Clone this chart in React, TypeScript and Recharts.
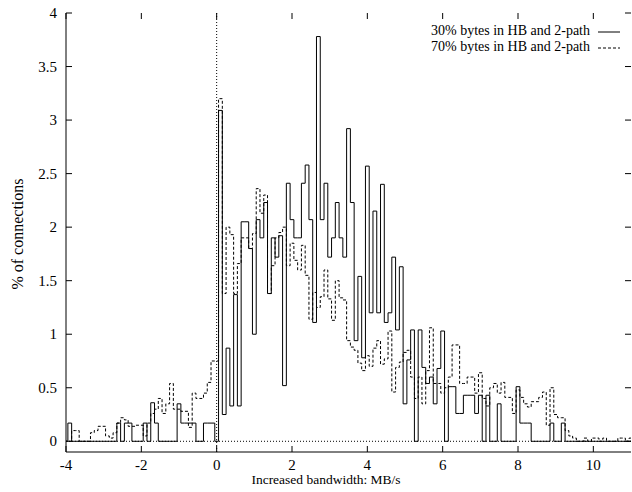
import { LineChart, Line, XAxis, YAxis, ReferenceLine } from 'recharts'

// histogram bins, 0.1 MB/s wide; value k belongs to [BIN_START + k*BIN_WIDTH, +BIN_WIDTH)
const BIN_START = -4.05
const BIN_WIDTH = 0.1

const HB30 = [
  0, 0.17, 0, 0, 0, 0, 0, 0, 0, 0,
  0, 0, 0, 0, 0.17, 0, 0.17, 0.17, 0, 0,
  0, 0.17, 0, 0.36, 0.17, 0, 0, 0, 0, 0,
  0.35, 0.17, 0.17, 0.17, 0.17, 0, 0, 0.17, 0.17, 0.17,
  0, 3.09, 0.25, 0.87, 0.33, 1.37, 0.33, 2.05, 2.05, 1.8,
  1.0, 2.07, 1.9, 2.23, 1.38, 1.9, 1.72, 1.92, 0.52, 2.41,
  2.07, 1.9, 1.9, 2.41, 2.58, 2.07, 1.11, 3.78, 2.07, 2.41,
  1.72, 1.9, 2.23, 1.9, 1.72, 2.92, 2.23, 0.94, 1.54, 0.78,
  2.57, 1.2, 2.15, 1.2, 2.4, 1.11, 1.2, 1.72, 1.04, 1.63,
  0.35, 0.76, 1.04, 0, 1.04, 0.69, 0.54, 0.6, 0.35, 0.68,
  1.03, 0, 0.51, 0.51, 0.26, 0.26, 0.43, 0.43, 0.43, 0.26,
  0.43, 0, 0.43, 0, 0, 0.35, 0, 0, 0, 0,
  0.51, 0.17, 0.17, 0.17, 0, 0, 0, 0, 0, 0.17,
  0, 0, 0.17, 0, 0, 0, 0, 0, 0, 0,
  0, 0, 0, 0, 0, 0, 0, 0, 0, 0, 0,
]

const HB70 = [
  0, 0, 0.1, 0.1, 0, 0, 0, 0.08, 0.1, 0.14,
  0.14, 0.05, 0.03, 0.08, 0.17, 0.22, 0.2, 0.14, 0.14, 0.15,
  0.15, 0.05, 0.17, 0.26, 0.3, 0.4, 0.26, 0.35, 0.54, 0.3,
  0.3, 0.28, 0.28, 0.13, 0.45, 0.4, 0.4, 0.45, 0.55, 0.75,
  0.75, 3.2, 1.38, 2.0, 1.93, 1.38, 1.66, 1.9, 1.9, 1.8,
  1.94, 2.36, 2.13, 2.3, 1.38, 1.64, 1.9, 1.95, 2.0, 1.64,
  1.85, 1.69, 1.6, 1.83, 1.55, 1.14, 1.39, 1.25, 1.35, 1.6,
  1.33, 1.13, 1.5, 1.34, 1.32, 0.94, 0.88, 0.85, 0.73, 0.66,
  0.8, 0.7, 0.87, 0.94, 0.72, 0.77, 1.03, 0.46, 0.69, 0.74,
  0.83, 0.85, 0.6, 0.4, 0.6, 0.35, 0.66, 1.06, 0.54, 0.54,
  0.45, 0.5, 0.6, 0.9, 0.9, 0.54, 0.54, 0.6, 0.6, 0.45,
  0.64, 0.4, 0.33, 0.5, 0.54, 0.45, 0.55, 0.41, 0.41, 0.26,
  0.48, 0.41, 0.35, 0.32, 0.37, 0.37, 0.41, 0.46, 0.15, 0.5,
  0.25, 0.22, 0.22, 0.1, 0.05, 0.03, 0, 0, 0.03, 0,
  0.03, 0.03, 0, 0.03, 0, 0, 0, 0.03, 0.03, 0, 0.03,
]

const X_TICKS = [-4, -2, 0, 2, 4, 6, 8, 10]
const Y_TICKS = [0, 0.5, 1, 1.5, 2, 2.5, 3, 3.5, 4]
const LEGEND = [
  { label: '30% bytes in HB and 2-path', dash: undefined },
  { label: '70% bytes in HB and 2-path', dash: '3 2' },
]

const W = 632
const H = 492
const LEFT = 66
const RIGHT = 631
const TOP = 13
const BOTTOM = 452
const TICK = 6
const FONT = '"Liberation Serif", "Times New Roman", serif'

const data = HB30.map((v, i) => ({
  x: +(BIN_START + i * BIN_WIDTH).toFixed(2),
  hb30: v,
  hb70: HB70[i],
}))
// closing point so the last step gets its width
data.push({
  x: +(BIN_START + HB30.length * BIN_WIDTH).toFixed(2),
  hb30: HB30[HB30.length - 1],
  hb70: HB70[HB70.length - 1],
})

function XTick({ x, payload }: any) {
  return (
    <g>
      <line x1={x} x2={x} y1={BOTTOM} y2={BOTTOM - TICK} stroke="#000" />
      <line x1={x} x2={x} y1={TOP} y2={TOP + TICK} stroke="#000" />
      <text x={x} y={BOTTOM + 18} textAnchor="middle" fontSize={15} fontFamily={FONT} fill="#000">
        {payload.value}
      </text>
    </g>
  )
}

function YTick({ y, payload }: any) {
  return (
    <g>
      <line x1={LEFT} x2={LEFT + TICK} y1={y} y2={y} stroke="#000" />
      <line x1={RIGHT} x2={RIGHT - TICK} y1={y} y2={y} stroke="#000" />
      <text x={LEFT - 9} y={y + 5} textAnchor="end" fontSize={15} fontFamily={FONT} fill="#000">
        {payload.value}
      </text>
    </g>
  )
}

function XTitle() {
  return (
    <text x={326} y={484} textAnchor="middle" fontSize={13.5} fontFamily={FONT} fill="#000">
      Increased bandwidth: MB/s
    </text>
  )
}

function YTitle() {
  return (
    <text
      x={23}
      y={234}
      transform="rotate(-90 23 234)"
      textAnchor="middle"
      fontSize={16}
      fontFamily={FONT}
      fill="#000"
    >
      % of connections
    </text>
  )
}

export default function App() {
  return (
    <div style={{ position: 'absolute', left: 0, top: 0, width: W, height: H, background: '#fff' }}>
      <LineChart
        width={W}
        height={H}
        data={data}
        margin={{ top: TOP, right: W - RIGHT, bottom: 0, left: 0 }}
      >
        <XAxis
          dataKey="x"
          type="number"
          domain={[-4, 11]}
          ticks={X_TICKS}
          allowDataOverflow
          height={H - BOTTOM}
          axisLine={{ stroke: '#000' }}
          tickLine={false}
          tick={<XTick />}
          label={<XTitle />}
        />
        <XAxis xAxisId="top" orientation="top" type="number" domain={[-4, 11]} height={0} tick={false} axisLine={{ stroke: '#000' }} />
        <YAxis
          type="number"
          domain={[-0.1, 4]}
          ticks={Y_TICKS}
          allowDataOverflow
          width={LEFT}
          axisLine={{ stroke: '#000' }}
          tickLine={false}
          tick={<YTick />}
          label={<YTitle />}
        />
        <YAxis yAxisId="right" orientation="right" type="number" domain={[-0.1, 4]} width={0} tick={false} axisLine={{ stroke: '#000' }} />
        <ReferenceLine x={0} stroke="#000" strokeDasharray="1 2" />
        <ReferenceLine y={0} stroke="#000" strokeDasharray="1 2" />
        <Line
          dataKey="hb30"
          type="stepAfter"
          stroke="#000"
          strokeWidth={1}
          dot={false}
          isAnimationActive={false}
        />
        <Line
          dataKey="hb70"
          type="stepAfter"
          stroke="#000"
          strokeWidth={1}
          strokeDasharray="3 2"
          dot={false}
          isAnimationActive={false}
        />
      </LineChart>
      <div
        style={{
          position: 'absolute',
          top: 23,
          right: 9,
          fontFamily: FONT,
          fontSize: 14,
          lineHeight: '16px',
          color: '#000',
        }}
      >
        {LEGEND.map((item) => (
          <div key={item.label} style={{ display: 'flex', alignItems: 'center', justifyContent: 'flex-end' }}>
            <span>{item.label}</span>
            <svg width={33} height={16}>
              <line x1={8} x2={30} y1={9} y2={9} stroke="#000" strokeDasharray={item.dash} />
            </svg>
          </div>
        ))}
      </div>
    </div>
  )
}
